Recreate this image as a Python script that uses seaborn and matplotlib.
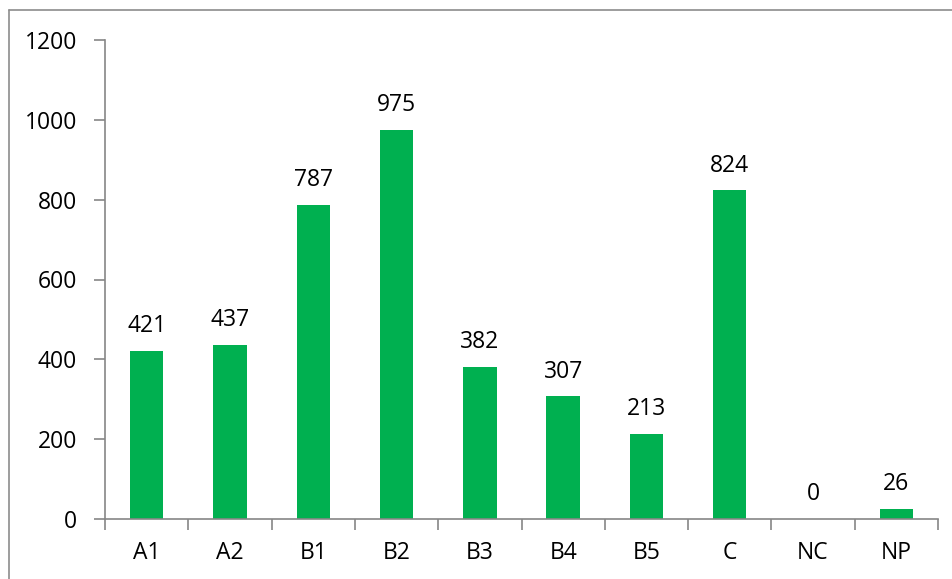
import matplotlib
matplotlib.use("Agg")
import matplotlib.pyplot as plt
import seaborn as sns
import pandas as pd
from matplotlib.lines import Line2D

categories = ["A1", "A2", "B1", "B2", "B3", "B4", "B5", "C", "NC", "NP"]
counts = [421, 437, 787, 975, 382, 307, 213, 824, 0, 26]
y_ticks = [0, 200, 400, 600, 800, 1000, 1200]

df = pd.DataFrame({"category": categories, "count": counts})

sns.set_theme(style="white")
plt.rcParams["font.family"] = ["Open Sans", "DejaVu Sans"]

fig = plt.figure(figsize=(9.53, 5.79), dpi=100)
ax = fig.add_axes([105 / 953, 1 - 519 / 579, (938 - 105) / 953, (519 - 40) / 579])

sns.barplot(data=df, x="category", y="count", color="#00B050", saturation=1,
            width=0.4, linewidth=0, ax=ax)

for c in ax.containers:
    ax.bar_label(c, padding=9, fontsize=16.5, color="black")

axis_gray = "#868686"
ax.set_xlim(-0.5, len(categories) - 0.5)
ax.set_ylim(0, 1200)
ax.set_yticks(y_ticks)
ax.set_yticklabels([str(v) for v in y_ticks])
ax.set_xlabel("")
ax.set_ylabel("")

# Excel-style ticks: x ticks between categories
ax.set_xticks([i - 0.5 for i in range(len(categories) + 1)], minor=True)
ax.tick_params(axis="x", which="major", length=0, pad=16, labelsize=16.5, labelcolor="black")
ax.tick_params(axis="x", which="minor", length=8, width=1.2, color=axis_gray, direction="out", bottom=True)
ax.tick_params(axis="y", which="major", length=8, width=1.2, color=axis_gray, direction="out",
               left=True, pad=12, labelsize=16.5, labelcolor="black")

for side in ["top", "right"]:
    ax.spines[side].set_visible(False)
for side in ["left", "bottom"]:
    ax.spines[side].set_color(axis_gray)
    ax.spines[side].set_linewidth(1.2)

# outer chart frame (left and top edges visible)
fx = 9 / 953
fy = 1 - 10 / 579
fig.add_artist(Line2D([fx, fx], [-0.05, fy], transform=fig.transFigure, color="#8c8c8c", lw=1.2))
fig.add_artist(Line2D([fx, 1.05], [fy, fy], transform=fig.transFigure, color="#8c8c8c", lw=1.2))

fig.savefig("out.png", dpi=100)
